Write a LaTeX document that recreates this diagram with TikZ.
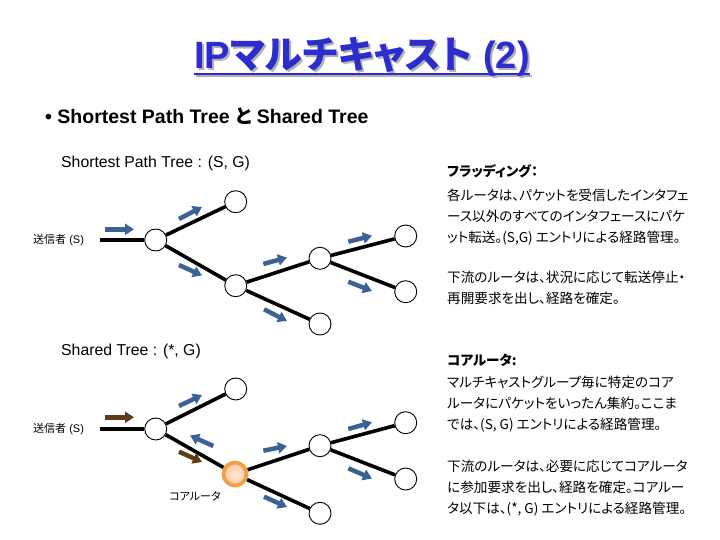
\documentclass[tikz,border=0pt]{standalone}
\usepackage{fontspec}
\setmainfont{Liberation Sans}
\newfontfamily\jp{Noto Sans CJK JP}[RawFeature={+palt}]
\usetikzlibrary{arrows.meta,shadings}
\definecolor{titleblue}{RGB}{45,45,205}
\definecolor{flowblue}{RGB}{58,98,148}
\definecolor{flowbrown}{RGB}{95,58,22}
\definecolor{coreorange}{RGB}{242,160,72}
\definecolor{corefill}{RGB}{250,200,160}
\tikzset{
  router/.style={circle,draw=black,line width=0.9pt,fill=white,minimum size=22pt,inner sep=0pt},
  corerouter/.style={circle,draw=coreorange,line width=3.8pt,inner color=white!60!corefill,outer color=corefill,minimum size=23pt,inner sep=0pt},
  link/.style={line width=3.6pt,black},
  flow/.style={line width=4.5pt,flowblue,-{Triangle[length=9pt,width=11pt]}},
  flowb/.style={flow,draw=flowbrown},
  jtext/.style={anchor=base west,inner sep=0pt,font=\jp\fontsize{13.6}{15}\selectfont},
  jhead/.style={anchor=base west,inner sep=0pt,font=\jp\bfseries\fontsize{13.6}{15}\selectfont},
  label/.style={anchor=west,inner sep=0pt,font=\fontsize{15.8}{17}\selectfont},
  small/.style={anchor=west,inner sep=0pt,font=\fontsize{11}{12}\selectfont},
  titlefont/.style={anchor=base,inner sep=0pt,font=\bfseries\fontsize{38}{38}\selectfont},
}
\begin{document}
\begin{tikzpicture}[x=1pt,y=-1pt]
\useasboundingbox (0,0) rectangle (720,540);
% title
\node[titlefont,text=black!30] (titlesh) at (364,71) {IP{\jp マルチキャスト} (2)};
\draw[black!30,line width=2.6pt] ([yshift=-5pt]titlesh.base west) -- ([yshift=-5pt]titlesh.base east);
\node[titlefont,text=titleblue] (title) at (362,69) {IP{\jp マルチキャスト} (2)};
\draw[titleblue,line width=2.6pt] ([yshift=-5pt]title.base west) -- ([yshift=-5pt]title.base east);
% bullet
\node[anchor=west,inner sep=0pt,font=\bfseries\fontsize{19.5}{21}\selectfont] (bullet) at (45,116) {\textbullet\ Shortest Path Tree {\jp と} Shared Tree};

% ---------- Shortest path tree ----------
\node[label] (lab1) at (61,163) {Shortest Path Tree : (S, G)};
\node[small] (snd1) at (33,240) {{\jp 送信者} (S)};
\coordinate (s1) at (100,240);
\node[router] (a1) at (155.7,240) {};
\node[router] (b1) at (235.7,201.7) {};
\node[router] (c1) at (235.7,285.7) {};
\node[router] (d1) at (320,258.3) {};
\node[router] (e1) at (405.7,236) {};
\node[router] (f1) at (405.7,291.7) {};
\node[router] (g1) at (320,324) {};
\draw[link] (s1) -- (a1);
\draw[link] (a1) -- (b1);
\draw[link] (a1) -- (c1);
\draw[link] (c1) -- (d1);
\draw[link] (c1) -- (g1);
\draw[link] (d1) -- (e1);
\draw[link] (d1) -- (f1);
\draw[flow] (105,229.3) -- (134,229.3);
\draw[flow] (179,219) -- (202,207);
\draw[flow] (179,265) -- (202,275.5);
\draw[flow] (263.3,264) -- (287,257.5);
\draw[flow] (264,309.3) -- (287,321);
\draw[flow] (348.3,241.7) -- (372,235.7);
\draw[flow] (348.3,281.7) -- (372,291);

% ---------- Shared tree ----------
\node[label] (lab2) at (61,351) {Shared Tree : (*, G)};
\node[small] (snd2) at (33,429) {{\jp 送信者} (S)};
\coordinate (s2) at (100,429);
\node[router] (a2) at (155.7,429) {};
\node[router] (b2) at (235.7,389) {};
\node[corerouter] (c2) at (235,474) {};
\node[router] (d2) at (320,445.7) {};
\node[router] (e2) at (405.7,422.7) {};
\node[router] (f2) at (405.7,479) {};
\node[router] (g2) at (320,513.3) {};
\draw[link] (s2) -- (a2);
\draw[link] (a2) -- (b2);
\draw[link] (a2) -- (c2);
\draw[link] (c2) -- (d2);
\draw[link] (c2) -- (g2);
\draw[link] (d2) -- (e2);
\draw[link] (d2) -- (f2);
\draw[flowb] (105,417.3) -- (134,417.3);
\draw[flow] (179,406) -- (202,395);
\draw[flow] (213.3,446) -- (190,435.5);
\draw[flowb] (179,451.7) -- (202,462);
\draw[flow] (263.3,450.7) -- (287,446);
\draw[flow] (264,496.7) -- (287,507);
\draw[flow] (348.3,429) -- (372,422.3);
\draw[flow] (348.3,468.3) -- (372,478.5);
\node[anchor=center,inner sep=0pt,font=\jp\fontsize{11}{12}\selectfont] (corelab) at (195,496) {コアルータ};

% ---------- right texts ----------
\node[jhead] (h1) at (447,177) {フラッディング：};
\node[jtext] (t11) at (447,201) {各ルータは、パケットを受信したインタフェ};
\node[jtext] (t12) at (447,221.5) {ース以外のすべてのインタフェースにパケ};
\node[jtext] (t13) at (447,242) {ット転送。(S,G) エントリによる経路管理。};
\node[jtext] (t14) at (447,282) {下流のルータは、状況に応じて転送停止・};
\node[jtext] (t15) at (447,303) {再開要求を出し、経路を確定。};

\node[jhead] (h2) at (447,365) {コアルータ:};
\node[jtext] (t21) at (447,387) {マルチキャストグループ毎に特定のコア};
\node[jtext] (t22) at (447,408) {ルータにパケットをいったん集約。ここま};
\node[jtext] (t23) at (447,429) {では、(S, G) エントリによる経路管理。};
\node[jtext] (t24) at (447,471) {下流のルータは、必要に応じてコアルータ};
\node[jtext] (t25) at (447,492) {に参加要求を出し、経路を確定。コアルー};
\node[jtext] (t26) at (447,513) {タ以下は、(*, G) エントリによる経路管理。};
\end{tikzpicture}
\end{document}
